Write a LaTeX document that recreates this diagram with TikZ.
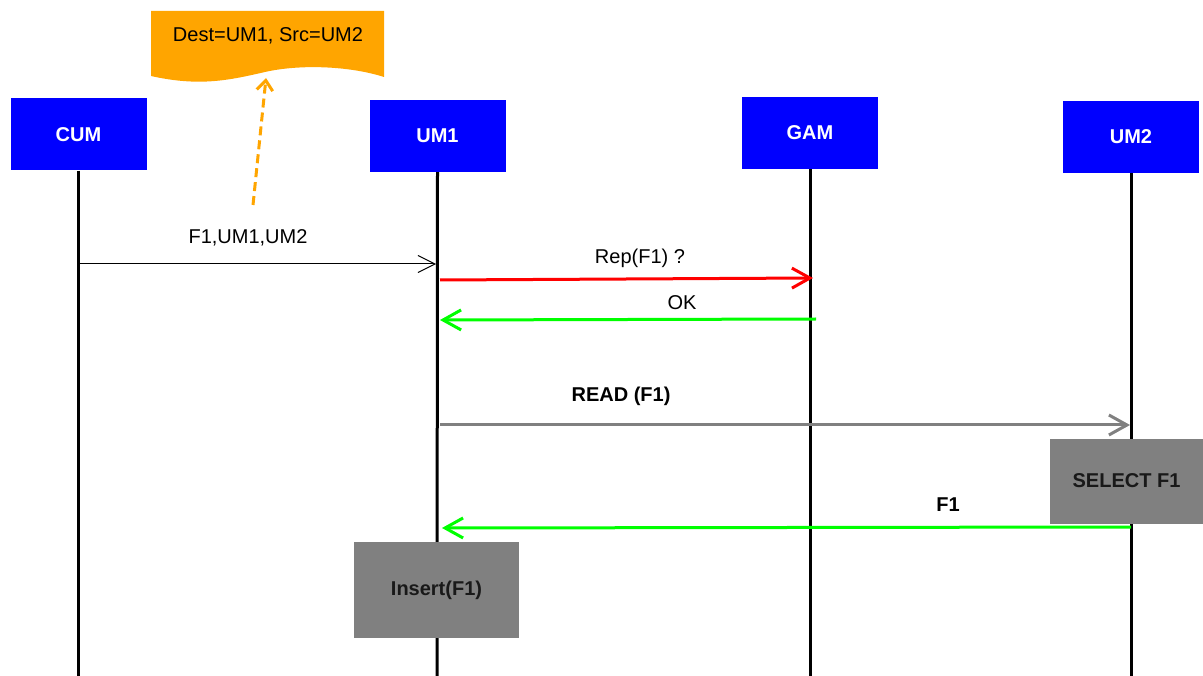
\documentclass[tikz,border=0pt]{standalone}
\usepackage{fontspec}
\setmainfont{Liberation Sans}
\usetikzlibrary{arrows.meta}
\definecolor{hdrblue}{RGB}{0,0,255}
\definecolor{noteorange}{RGB}{255,165,0}
\definecolor{boxgray}{RGB}{128,128,128}
\definecolor{msggreen}{RGB}{0,255,0}
\definecolor{msgred}{RGB}{255,0,0}
\begin{document}
\begin{tikzpicture}[x=1pt,y=-1pt,
  txt/.style={font=\fontsize{20}{24}\selectfont, inner sep=0pt},
  actor/.style={fill=hdrblue, draw=none, minimum width=136pt, minimum height=72pt, text=white, font=\fontsize{20}{24}\selectfont\bfseries, inner sep=0pt},
  actbox/.style={fill=boxgray, draw=none, text=black!90, font=\fontsize{20}{24}\selectfont\bfseries, inner sep=0pt},
  lifeline/.style={line width=3pt, black},
  thinmsg/.style={line width=1pt, -{Straight Barb[length=17pt,width=17pt,line width=1pt]}},
  boldmsg/.style={line width=3pt, -{Straight Barb[length=18pt,width=20pt,line width=3pt]}},
  lbl/.style={txt, anchor=center},
  blbl/.style={txt, font=\fontsize{20}{24}\selectfont\bfseries, anchor=center}
]
\useasboundingbox (0,0) rectangle (1203,676);

% Note
\fill[noteorange] (151,11) -- (384,11) -- (384,77)
  .. controls (350,66) and (300,64) .. (265,72)
  .. controls (230,80) and (200,87) .. (151,76) -- cycle;
\node[txt] (note) at (268,36) {Dest=UM1, Src=UM2};
\coordinate (notebot) at (266,78);
\coordinate (notefoot) at (253,205);
\draw[noteorange, line width=3pt, dash pattern=on 9pt off 5pt, -{Straight Barb[length=10pt,width=16pt,line width=3pt]}] (notefoot) -- (notebot);

% Actors
\node[actor] (cum) at (78.5,134.5) {CUM};
\node[actor] (um1) at (437.5,136) {UM1};
\node[actor] (gam) at (810,133) {GAM};
\node[actor] (um2) at (1131,137) {UM2};

% Lifelines
\coordinate (cumE) at (78.5,676);
\coordinate (um1E) at (437,676);
\coordinate (gamE) at (810,676);
\coordinate (um2E) at (1131,676);
\draw[lifeline] (cum.south) -- (cumE);
\draw[lifeline] (um1.south) -- (um1E);
\draw[lifeline] (gam.south) -- (gamE);
\draw[lifeline] (um2.south) -- (um2E);

% Activation boxes
\node[actbox, minimum width=153pt, minimum height=85pt] (sel) at (1126.5,481) {SELECT F1};
\node[actbox, minimum width=165pt, minimum height=96pt] (ins) at (436.5,590) {Insert(F1)};

% Message 1
\coordinate (m1a) at (80,264);
\coordinate (m1b) at (436,264);
\draw[thinmsg] (m1a) -- (m1b);
\node[lbl] (m1l) at (248,238) {F1,UM1,UM2};

% Message 2
\coordinate (m2a) at (440,280);
\coordinate (m2b) at (813,278);
\draw[boldmsg, msgred] (m2a) -- (m2b);
\node[lbl] (m2l) at (640,258) {Rep(F1) ?};

% Message 3
\coordinate (m3a) at (816,319);
\coordinate (m3b) at (440,320);
\draw[boldmsg, msggreen] (m3a) -- (m3b);
\node[lbl] (m3l) at (682,303) {OK};

% Message 4
\coordinate (m4a) at (440,425);
\coordinate (m4b) at (1130,425);
\draw[boldmsg, boxgray] (m4a) -- (m4b);
\node[blbl] (m4l) at (621,396) {READ (F1)};

% Message 5
\coordinate (m5a) at (1131,527);
\coordinate (m5b) at (442,528);
\draw[boldmsg, msggreen] (m5a) -- (m5b);
\node[blbl] (m5l) at (948,505) {F1};
\end{tikzpicture}
\end{document}
